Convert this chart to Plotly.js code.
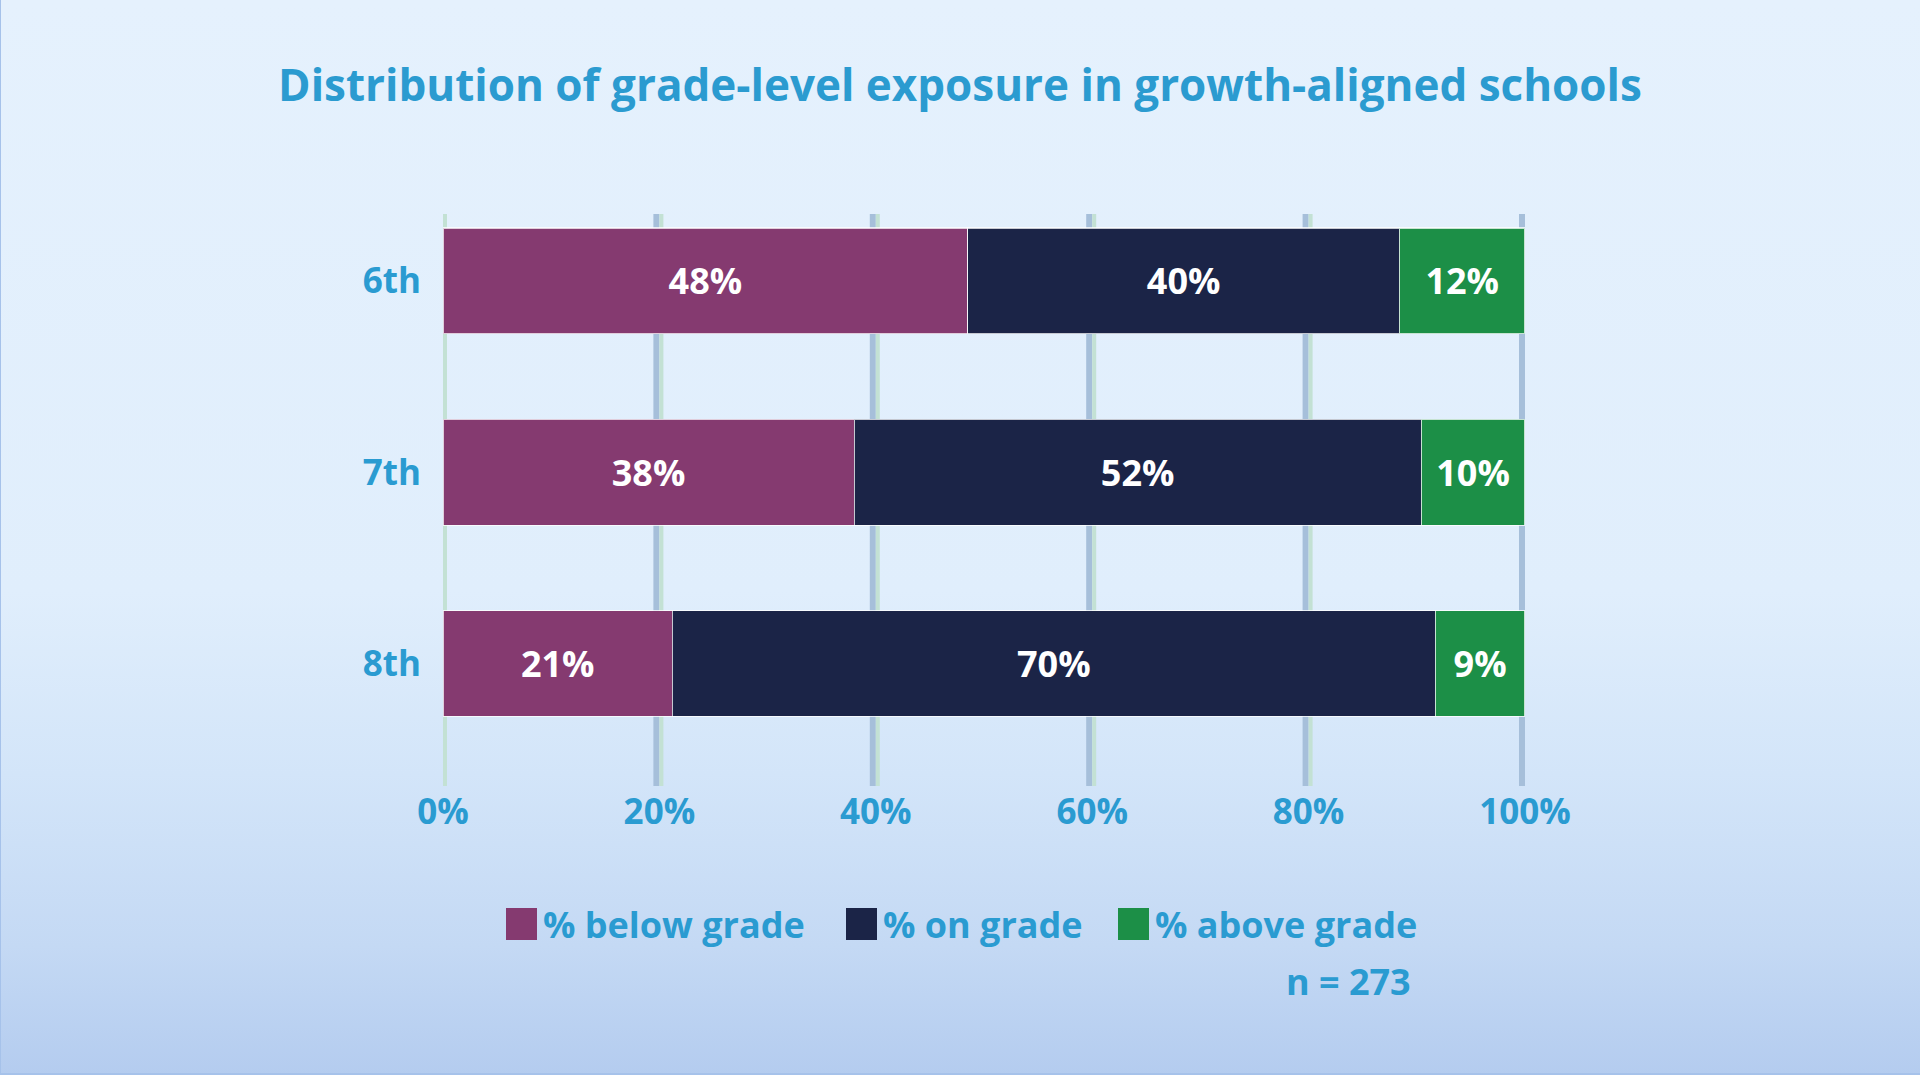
<!DOCTYPE html>
<html>
<head>
<meta charset="utf-8">
<script src="https://cdn.plot.ly/plotly-3.0.1.min.js"></script>
<style>
  html, body { margin:0; padding:0; width:1920px; height:1075px; overflow:hidden; }
  body { background: linear-gradient(180deg, #e5f1fd 0%, #e0eefc 55%, #d3e5f9 72%, #c4d9f4 88%, #b4ccef 100%);
         box-shadow: inset 1px -2px 0 0 #a6c2ea; }
  #chart { width:1920px; height:1075px; }
</style>
</head>
<body>
<div id="chart"></div>
<script>
// ---- data ----
const grades = ['6th', '7th', '8th'];
const seriesNames = ['% below grade', '% on grade', '% above grade'];
const seriesColors = ['#853a70', '#1b2447', '#1c8f47'];
const belowGrade = [48.5, 38.0, 21.2];
const onGrade = [39.9, 52.4, 70.5];
const aboveGrade = [11.6, 9.6, 8.3];
const belowLabels = ['48%', '38%', '21%'];
const onLabels = ['40%', '52%', '70%'];
const aboveLabels = ['12%', '10%', '9%'];
const xTickVals = [0, 20, 40, 60, 80, 100];
const xTickText = ['0%', '20%', '40%', '60%', '80%', '100%'];
const titleText = 'Distribution of grade-level exposure in growth-aligned schools';
const noteText = 'n = 273';

// ---- layout helpers ----
const W = 1920, H = 1075;
const M = {l: 443, r: 395, t: 214, b: 289};
const PW = W - M.l - M.r, PH = H - M.t - M.b;
const px2x = p => (p - M.l) / PW;
const py2y = p => (H - M.b - p) / PH;

const blue = '#2a9bd1';
const FONT = 'Open Sans, Roboto, sans-serif';

const seriesValues = [belowGrade, onGrade, aboveGrade];
const seriesLabels = [belowLabels, onLabels, aboveLabels];

const traces = seriesNames.map((name, i) => ({
  type: 'bar',
  orientation: 'h',
  name: name,
  y: grades,
  x: seriesValues[i],
  text: seriesLabels[i],
  texttemplate: '%{text}',
  textposition: 'inside',
  insidetextanchor: 'middle',
  constraintext: 'none',
  textfont: {family: FONT, size: 36, color: '#ffffff', weight: 700},
  marker: {color: seriesColors[i], line: {color: 'rgba(255,255,255,0.75)', width: 1.2}},
  showlegend: false,
  hoverinfo: 'skip'
}));

// gridline-like shapes anchored at tick values
const shapes = [];
xTickVals.forEach(v => {
  shapes.push({type: 'rect', xref: 'x', yref: 'paper', xsizemode: 'pixel', xanchor: v,
    x0: -6, x1: 0, y0: 0, y1: 1, fillcolor: '#a6bfda', line: {width: 0}, layer: 'below'});
  shapes.push({type: 'rect', xref: 'x', yref: 'paper', xsizemode: 'pixel', xanchor: v,
    x0: 0, x1: 4, y0: 0, y1: 1, fillcolor: '#c3e1d4', line: {width: 0}, layer: 'below'});
});

// custom legend
const legendSquareX = [506, 846, 1118];
const legendY = 924;
const annotations = [];
seriesNames.forEach((name, i) => {
  const x0 = legendSquareX[i];
  shapes.push({type: 'rect', xref: 'paper', yref: 'paper',
    x0: px2x(x0), x1: px2x(x0 + 31), y0: py2y(legendY + 16), y1: py2y(legendY - 16),
    fillcolor: seriesColors[i], line: {width: 0}});
  annotations.push({xref: 'paper', yref: 'paper', x: px2x(x0 + 35), y: py2y(legendY),
    xanchor: 'left', yanchor: 'middle', showarrow: false, text: name,
    font: {family: FONT, size: 36, color: blue, weight: 700}});
});
annotations.push({xref: 'paper', yref: 'paper', x: px2x(1413), y: py2y(981),
  xanchor: 'right', yanchor: 'middle', showarrow: false, text: noteText,
  font: {family: FONT, size: 36, color: blue, weight: 700}});

const layout = {
  width: W, height: H,
  margin: M,
  paper_bgcolor: 'rgba(0,0,0,0)',
  plot_bgcolor: 'rgba(0,0,0,0)',
  barmode: 'stack',
  bargap: 0.447,
  title: {text: titleText, x: 0.5, xref: 'container', xanchor: 'center', y: 1 - 86 / H, yref: 'container', yanchor: 'middle',
    font: {family: FONT, size: 44, color: '#2b9bd0', weight: 700}},
  xaxis: {range: [0, 100], tickvals: xTickVals, ticktext: xTickText, showgrid: false, zeroline: false,
    showline: false, ticks: '', ticklen: 0, ticklabelstandoff: 2,
    tickfont: {family: FONT, size: 35, color: blue, weight: 700}, fixedrange: true},
  yaxis: {type: 'category', categoryorder: 'array', categoryarray: grades, range: [2.64, -0.35],
    showgrid: false, zeroline: false, showline: false, ticks: 'outside', ticklen: 14,
    tickcolor: 'rgba(0,0,0,0)', tickfont: {family: FONT, size: 35, color: blue, weight: 700}, fixedrange: true},
  shapes: shapes,
  annotations: annotations,
  hovermode: false
};

Plotly.newPlot('chart', traces, layout, {displayModeBar: false, staticPlot: true});
</script>
</body>
</html>
